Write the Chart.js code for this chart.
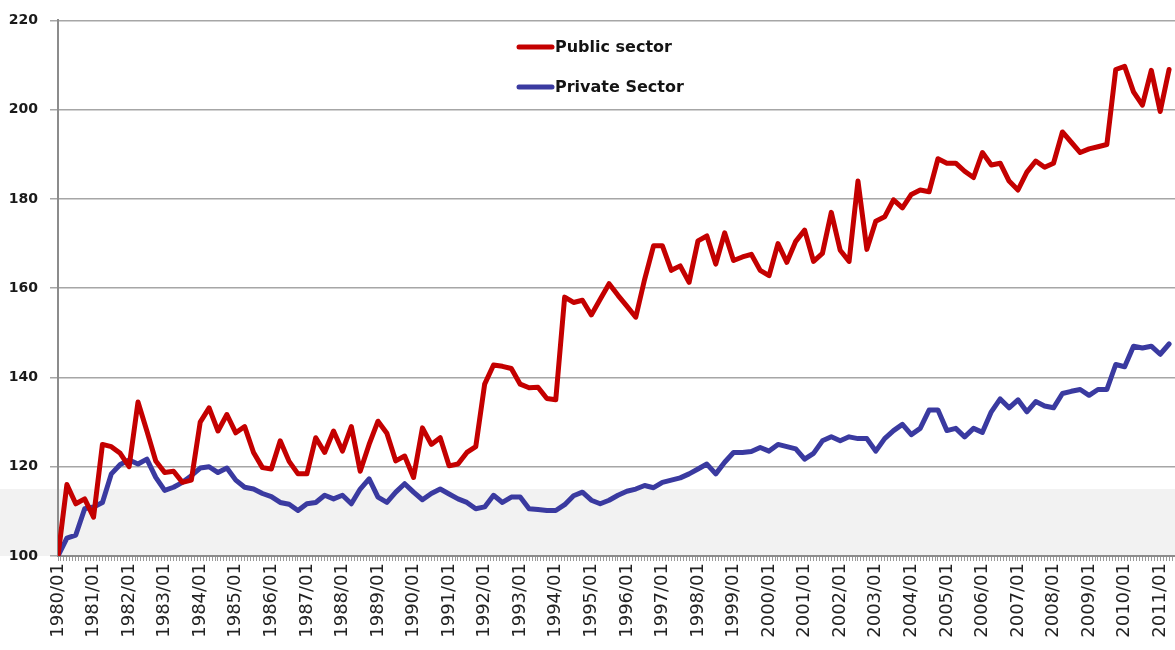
<!DOCTYPE html>
<html>
<head>
<meta charset="utf-8">
<title>Public vs Private Sector</title>
<script src="https://cdn.jsdelivr.net/npm/chart.js@4.4.0/dist/chart.umd.min.js"></script>
<style>
  body { margin: 0; background: #fff; }
</style>
</head>
<body>
<canvas id="sectors" width="1175" height="650"></canvas>
<script>
// quarterly index values, 1980/01 = 100
const tickLabels = ['1980/01', '1981/01', '1982/01', '1983/01', '1984/01', '1985/01', '1986/01', '1987/01',
    '1988/01', '1989/01', '1990/01', '1991/01', '1992/01', '1993/01', '1994/01', '1995/01',
    '1996/01', '1997/01', '1998/01', '1999/01', '2000/01', '2001/01', '2002/01', '2003/01',
    '2004/01', '2005/01', '2006/01', '2007/01', '2008/01', '2009/01', '2010/01', '2011/01'];

const seriesNames = ['Public sector', 'Private Sector'];

const publicSector = [
    100, 116, 111.7, 112.8, 108.7, 125, 124.5, 123,
    120, 134.5, 128, 121.3, 118.7, 119, 116.5, 117,
    130, 133.2, 128, 131.7, 127.6, 129, 123.2, 119.8,
    119.5, 125.8, 121.2, 118.4, 118.4, 126.5, 123.2, 128,
    123.5, 129, 119, 125, 130.2, 127.5, 121.3, 122.4,
    117.6, 128.7, 125, 126.5, 120.2, 120.6, 123.2, 124.5,
    138.5, 142.8, 142.5, 142, 138.5, 137.7, 137.8, 135.3,
    135, 158, 156.8, 157.3, 154, 157.5, 161, 158.4,
    156, 153.5, 162, 169.5, 169.5, 164, 165, 161.3,
    170.6, 171.7, 165.4, 172.4, 166.2, 167, 167.6, 164,
    162.8, 170, 165.8, 170.5, 173, 166, 167.8, 177,
    168.5, 166, 184, 168.7, 175, 176, 179.8, 178,
    181, 182, 181.6, 189, 188, 188, 186.2, 184.8,
    190.4, 187.6, 188, 184, 182, 186, 188.5, 187.1,
    188, 195, 192.7, 190.4, 191.2, 191.7, 192.2, 209,
    209.7, 204, 201, 208.8, 199.6, 209
];

const privateSector = [
    100, 104, 104.7, 110.6, 111, 112, 118.4, 120.5,
    121.5, 120.6, 121.7, 117.6, 114.7, 115.4, 116.5, 118,
    119.7, 120, 118.7, 119.7, 117, 115.4, 115, 114,
    113.3, 112, 111.6, 110.2, 111.7, 112, 113.6, 112.8,
    113.6, 111.7, 115, 117.3, 113.2, 112, 114.3, 116.2,
    114.3, 112.6, 114, 115, 113.9, 112.8, 112, 110.6,
    111, 113.6, 112, 113.2, 113.2, 110.6, 110.4, 110.2,
    110.2, 111.5, 113.5, 114.3, 112.5, 111.7, 112.5, 113.6,
    114.5, 115, 115.8, 115.3, 116.5, 117, 117.5, 118.4,
    119.5, 120.6, 118.4, 121, 123.2, 123.2, 123.4, 124.3,
    123.5, 125, 124.5, 124, 121.7, 123, 125.8, 126.7,
    125.8, 126.7, 126.3, 126.3, 123.5, 126.3, 128.1, 129.5,
    127.2, 128.6, 132.7, 132.7, 128.1, 128.6, 126.7, 128.6,
    127.7, 132.3, 135.2, 133.2, 135, 132.3, 134.6, 133.6,
    133.2, 136.4, 136.9, 137.3, 136, 137.3, 137.3, 142.9,
    142.4, 147, 146.6, 147, 145.2, 147.5
];

const bandTop = 115; // light grey strip along the bottom of the plot

// x is counted in months from 1980/01, one point per quarter
function toPoints(values) {
    return values.map((v, i) => ({ x: i * 3, y: v }));
}

const bandPlugin = {
    id: 'lowBand',
    beforeDraw(chart) {
        const { ctx, chartArea, scales } = chart;
        const top = scales.y.getPixelForValue(bandTop);
        ctx.save();
        ctx.fillStyle = '#f2f2f2';
        ctx.fillRect(0, top, chart.width, chartArea.bottom - top);
        ctx.restore();
    }
};

// legend sits inside the plot, stacked
const legendPlugin = {
    id: 'insideLegend',
    afterDatasetsDraw(chart) {
        const ctx = chart.ctx;
        ctx.save();
        chart.data.datasets.forEach((ds, i) => {
            const y = 47 + i * 40;
            ctx.strokeStyle = ds.borderColor;
            ctx.lineWidth = 5;
            ctx.lineCap = 'round';
            ctx.beginPath();
            ctx.moveTo(519, y);
            ctx.lineTo(552, y);
            ctx.stroke();
            ctx.fillStyle = '#141414';
            ctx.font = 'bold 16px "DejaVu Sans"';
            ctx.textBaseline = 'middle';
            ctx.fillText(ds.label, 555, y + 1);
        });
        ctx.restore();
    }
};

const ctx = document.getElementById('sectors').getContext('2d');
const myChart = new Chart(ctx, {
    type: 'line',
    data: {
        datasets: [{
            label: seriesNames[0],
            data: toPoints(publicSector),
            borderColor: '#c40000',
            borderWidth: 5,
            pointRadius: 0,
            tension: 0,
            borderJoinStyle: 'round',
            borderCapStyle: 'round'
        }, {
            label: seriesNames[1],
            data: toPoints(privateSector),
            borderColor: '#3a3aa0',
            borderWidth: 5,
            pointRadius: 0,
            tension: 0,
            borderJoinStyle: 'round',
            borderCapStyle: 'round'
        }]
    },
    options: {
        responsive: false,
        animation: false,
        layout: {
            padding: { top: 16, right: 0, bottom: 0, left: 0 }
        },
        plugins: {
            legend: { display: false },
            tooltip: { enabled: false }
        },
        scales: {
            x: {
                type: 'linear',
                min: 0,
                max: 377,
                grid: {
                    drawOnChartArea: false,
                    tickLength: 5,
                    color: '#9a9a9a',
                    lineWidth: 1
                },
                border: { color: '#8c8c8c', width: 2 },
                ticks: {
                    stepSize: 1,
                    autoSkip: false,
                    minRotation: 90,
                    maxRotation: 90,
                    padding: 2,
                    color: '#222',
                    font: { family: 'DejaVu Sans', size: 18 },
                    callback: (value) => value % 12 === 0 ? tickLabels[value / 12] : ''
                },
                afterFit: (scale) => {
                    scale.height = 94;
                    scale.paddingLeft = 0;
                    scale.paddingRight = 0;
                }
            },
            y: {
                min: 100,
                max: 220,
                ticks: {
                    stepSize: 20,
                    padding: 12,
                    color: '#1a1a1a',
                    font: { family: 'DejaVu Sans', size: 14, weight: 'bold' }
                },
                grid: { color: '#a6a6a6', lineWidth: 1.5, tickLength: 8 },
                border: { color: '#8c8c8c', width: 2 },
                afterFit: (scale) => {
                    scale.width = 58;
                }
            }
        }
    },
    plugins: [bandPlugin, legendPlugin]
});
</script>
</body>
</html>
